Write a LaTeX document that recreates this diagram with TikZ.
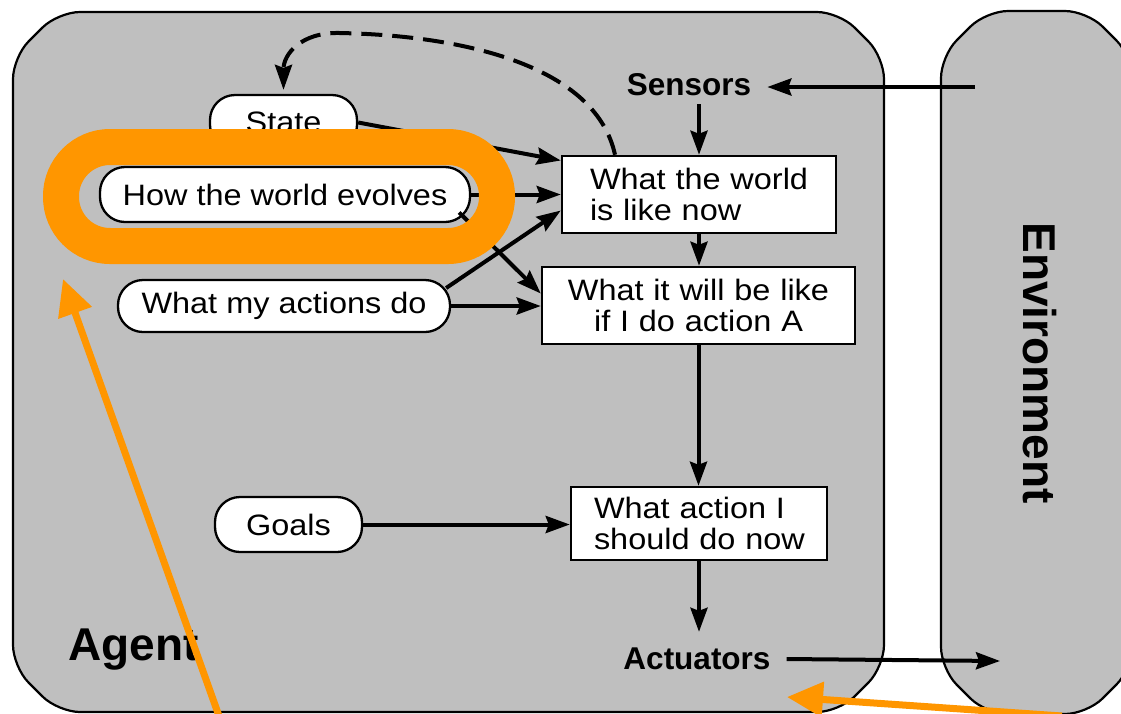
\documentclass[tikz,border=0pt]{standalone}
\usepackage{fontspec}
\setmainfont{Liberation Sans}
\newfontfamily\widefont{Liberation Sans}[FakeStretch=1.1]
\usetikzlibrary{arrows.meta,calc}
\definecolor{agentgray}{RGB}{191,191,191}
\definecolor{hiorange}{RGB}{255,150,0}
\begin{document}
\begin{tikzpicture}[x=1pt,y=-1pt,
  every node/.style={font=\widefont\fontsize{29.5}{31}\selectfont},
  panel/.style={fill=agentgray, draw=black, line width=2.2pt, rounded corners=22pt},
  pill/.style={draw=black, line width=2.3pt, fill=white, rounded corners=25pt, inner sep=0pt},
  box/.style={draw=black, line width=2.5pt, fill=white, inner ysep=0pt},
  arr/.style={line width=4pt, -{Stealth[length=24pt,width=17pt,inset=3pt]}},
  dasharr/.style={line width=4pt, dash pattern=on 21pt off 10pt, -{Stealth[length=25pt,width=17pt,inset=3pt]}},
  orarr/.style={draw=hiorange, line width=7pt, -{Triangle[length=36pt,width=34pt]}},
  lbl/.style={font=\fontsize{31.5}{34}\selectfont\bfseries},
  biglbl/.style={font=\fontsize{46}{50}\selectfont\bfseries}
]
\clip (0,0) rectangle (1121,713);
\fill[white] (0,0) rectangle (1121,713);
% panels
\draw[panel] (13,57) -- (58,12) -- (839,12) -- (884,57) -- (884,667) -- (839,712) -- (58,712) -- (13,667) -- cycle;
\draw[panel] (941,56) -- (986,11) -- (1087,11) -- (1132,56) -- (1132,669) -- (1087,714) -- (986,714) -- (941,669) -- cycle;
% labels
\node[biglbl, anchor=base west, inner sep=0pt] (agentlbl) at (68,660) {Agent};
\node[biglbl, rotate=-90] (envlbl) at (1040,363) {Environment};
\node[lbl, inner xsep=16pt, inner ysep=8pt] (sensors) at (689,85) {Sensors};
\node[lbl, inner sep=16pt] (actuators) at (697,659) {Actuators};
% pills
\node[pill, minimum width=147pt, minimum height=55pt] (state) at (283.5,122.5) {State};
\node[pill, minimum width=370pt, minimum height=55pt] (evolves) at (285,194.5) {How the world evolves};
\node[pill, minimum width=332pt, minimum height=52pt] (actions) at (284,306) {What my actions do};
\node[pill, minimum width=147pt, minimum height=55pt] (goals) at (288.5,524.5) {Goals};
% boxes
\node[box, text width=230pt, inner xsep=22pt, minimum height=77pt, align=left] (w1) at (699,194.5) {\hspace*{6pt}What the world\\\hspace*{6pt}is like now};
\node[box, text width=285pt, inner xsep=14pt, minimum height=77pt, align=center] (w2) at (698.5,305.5) {What it will be like\\if I do action A\hspace*{17pt}};
\node[box, text width=220pt, inner xsep=18pt, minimum height=73pt, align=left] (w3) at (699,523.5) {\hspace*{5pt}What action I\\\hspace*{5pt}should do now};
% free ends
\coordinate (envS) at (975,87);
\coordinate (envA) at (1000,661);
% arrows
\draw[arr] (envS) -- (sensors.east |- envS);
\draw[arr] (sensors.south -| w1.north) -- (w1.north);
\draw[arr] (w1.south) -- (w1.south |- w2.north);
\draw[arr] (w2.south) -- (w2.south |- w3.north);
\draw[arr] (w3.south) -- (w3.south |- actuators.north);
\draw[arr] (actuators.east) -- (envA);
\draw[arr] (state.east) -- ([yshift=34pt]w1.west);
\draw[arr] (evolves.east) -- (evolves.east -| w1.west);
\draw[arr] ($(evolves.east)+(-12,18)$) -- ([yshift=12pt]w2.west);
\draw[arr] ($(actions.east)+(-5,-18)$) -- ([yshift=-16pt]w1.west);
\draw[arr] (actions.east) -- (actions.east -| w2.west);
\draw[arr] (goals.east) -- (goals.east -| w3.west);
\draw[dasharr] ([xshift=-84pt]w1.north) .. controls (597,72) and (480,36) .. (340,33) .. controls (300,32) and (283.5,55) .. ([yshift=4pt]state.north);
% orange highlights
\draw[hiorange, line width=36pt, rounded corners=49pt] (61,147) rectangle (497,246);
\coordinate (o1s) at (219,716);
\coordinate (o1e) at (63,279);
\coordinate (o2s) at (1062,716);
\coordinate (o2e) at (787,697);
\draw[orarr] (o1s) -- (o1e);
\draw[orarr] (o2s) -- (o2e);
\end{tikzpicture}
\end{document}
